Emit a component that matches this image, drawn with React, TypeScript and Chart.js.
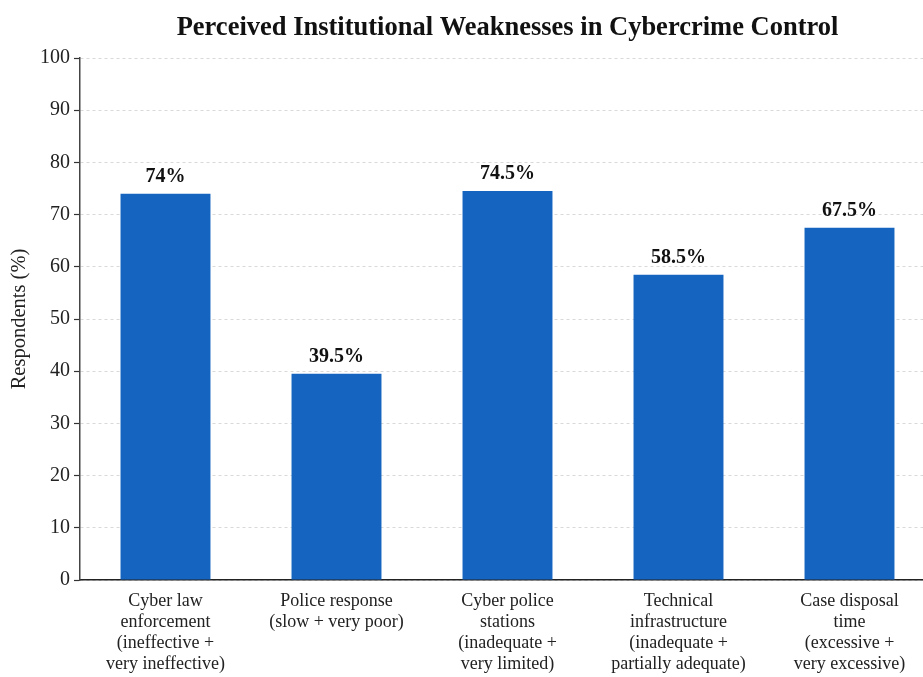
import React, { useEffect, useRef } from "react";
import { Chart, registerables } from "chart.js";

Chart.register(...registerables);

const TITLE = "Perceived Institutional Weaknesses in Cybercrime Control";
const Y_TITLE = "Respondents (%)";
const categories: string[][] = [
  ["Cyber law", "enforcement", "(ineffective +", "very ineffective)"],
  ["Police response", "(slow + very poor)"],
  ["Cyber police", "stations", "(inadequate +", "very limited)"],
  ["Technical", "infrastructure", "(inadequate +", "partially adequate)"],
  ["Case disposal", "time", "(excessive +", "very excessive)"],
];
const values: number[] = [74, 39.5, 74.5, 58.5, 67.5];
const yTicks: number[] = [0, 10, 20, 30, 40, 50, 60, 70, 80, 90, 100];

const FONT = "'Liberation Serif', 'Times New Roman', serif";
const BAR_COLOR = "#1565C0";

export default function App() {
  const ref = useRef<HTMLCanvasElement | null>(null);

  useEffect(() => {
    if (!ref.current) return;
    const bgPlugin = {
      id: "bg",
      beforeDraw(chart: any) {
        const ctx = chart.ctx;
        ctx.save();
        ctx.fillStyle = "#ffffff";
        ctx.fillRect(0, 0, chart.width, chart.height);
        ctx.restore();
      },
    };
    const labelPlugin = {
      id: "valueLabels",
      afterDatasetsDraw(chart: any) {
        const ctx = chart.ctx;
        const meta = chart.getDatasetMeta(0);
        ctx.save();
        ctx.font = `bold 20px ${FONT}`;
        ctx.fillStyle = "#111111";
        ctx.textAlign = "center";
        ctx.textBaseline = "bottom";
        meta.data.forEach((el: any, i: number) => {
          ctx.fillText(`${values[i]}%`, el.x, el.y - 7);
        });
        ctx.restore();
      },
    };
    const titlePlugin = {
      id: "customTitle",
      afterDraw(chart: any) {
        const ctx = chart.ctx;
        const a = chart.chartArea;
        ctx.save();
        ctx.font = `bold 26.5px ${FONT}`;
        ctx.fillStyle = "#111111";
        ctx.textAlign = "center";
        ctx.textBaseline = "middle";
        ctx.fillText(TITLE, (a.left + a.right) / 2, 28);
        ctx.restore();
      },
    };

    const chart = new Chart(ref.current, {
      type: "bar",
      data: {
        labels: categories,
        datasets: [
          {
            data: values,
            backgroundColor: BAR_COLOR,
            borderWidth: 0,
            categoryPercentage: 1,
            barPercentage: 0.526,
          },
        ],
      },
      options: {
        responsive: false,
        animation: false,
        layout: { padding: { top: 58, right: 5, left: 0, bottom: 0 } },
        plugins: {
          legend: { display: false },
          tooltip: { enabled: false },
          title: { display: false },
        },
        scales: {
          x: {
            grid: { display: false, drawTicks: false },
            border: { display: true, color: "#222222", width: 1.5 },
            ticks: {
              color: "#222222",
              padding: 11,
              font: { family: FONT, size: 18, lineHeight: 1.167 },
              maxRotation: 0,
              autoSkip: false,
            },
            afterFit(scale: any) {
              scale.height = 97;
            },
          },
          y: {
            min: 0,
            max: 100,
            afterBuildTicks(scale: any) {
              scale.ticks = yTicks.map((v) => ({ value: v }));
            },
            grid: {
              color: "#d9d9d9",
              lineWidth: 1,
              tickColor: "#333333",
              tickLength: 6,
              tickWidth: 1.2,
            },
            border: { display: true, color: "#444444", width: 1.5, dash: [3, 3] },
            ticks: {
              color: "#222222",
              padding: 4,
              font: { family: FONT, size: 20 },
            },
            title: {
              display: true,
              text: Y_TITLE,
              color: "#222222",
              font: { family: FONT, size: 20.5 },
              padding: { top: 7, bottom: 0 },
            },
            afterFit(scale: any) {
              scale.width = 80;
            },
          },
        },
      },
      plugins: [bgPlugin, labelPlugin, titlePlugin],
    } as any);
    return () => chart.destroy();
  }, []);

  return (
    <div
      style={{
        position: "fixed",
        left: 0,
        top: 0,
        width: 923,
        height: 677,
        overflow: "hidden",
        background: "#ffffff",
      }}
    >
      <canvas ref={ref} width={940} height={677} style={{ display: "block" }} />
    </div>
  );
}
